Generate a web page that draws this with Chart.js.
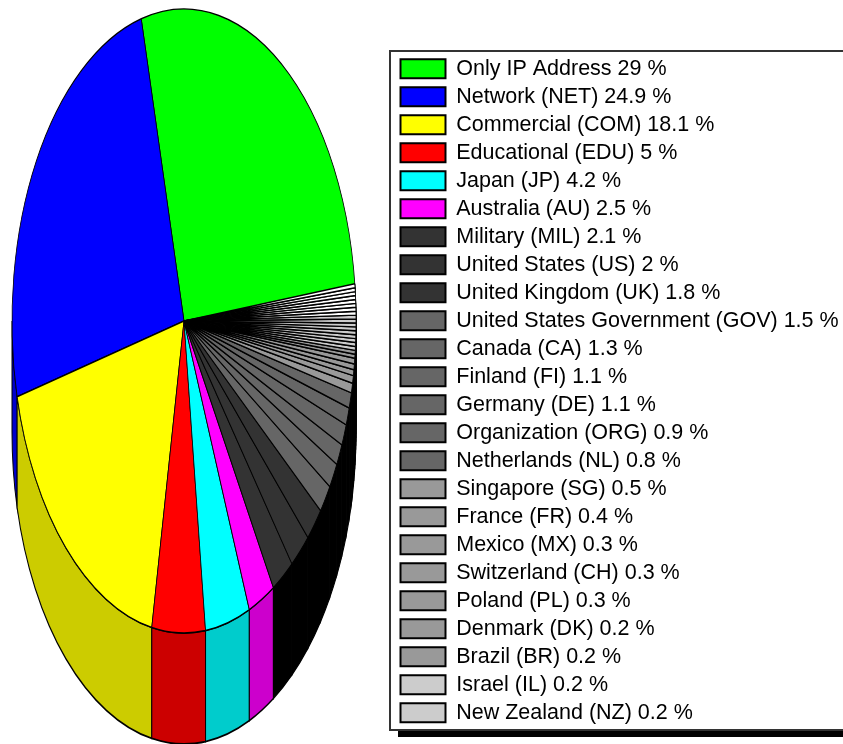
<!DOCTYPE html>
<html>
<head>
<meta charset="utf-8">
<title>Domains</title>
<script src="https://cdn.jsdelivr.net/npm/chart.js@4"></script>
<style>
  html, body { margin: 0; padding: 0; background: #fff; overflow: hidden; }
  canvas { display: block; }
</style>
</head>
<body>
<canvas id="pieChart" width="843" height="744"></canvas>
<script>
// Named slices, in legend order
const categories = [
  'Only IP Address', 'Network (NET)', 'Commercial (COM)', 'Educational (EDU)',
  'Japan (JP)', 'Australia (AU)', 'Military (MIL)', 'United States (US)',
  'United Kingdom (UK)', 'United States Government (GOV)', 'Canada (CA)',
  'Finland (FI)', 'Germany (DE)', 'Organization (ORG)', 'Netherlands (NL)',
  'Singapore (SG)', 'France (FR)', 'Mexico (MX)', 'Switzerland (CH)',
  'Poland (PL)', 'Denmark (DK)', 'Brazil (BR)', 'Israel (IL)', 'New Zealand (NZ)'
];
const percents = [
  29, 24.9, 18.1, 5, 4.2, 2.5, 2.1, 2, 1.8, 1.5, 1.3, 1.1, 1.1, 0.9, 0.8,
  0.5, 0.4, 0.3, 0.3, 0.3, 0.2, 0.2, 0.2, 0.2
];
const sliceColors = [
  '#00ff00', '#0000ff', '#ffff00', '#ff0000', '#00ffff', '#ff00ff',
  '#333333', '#333333', '#333333',
  '#666666', '#666666', '#666666', '#666666', '#666666', '#666666',
  '#999999', '#999999', '#999999', '#999999', '#999999', '#999999', '#999999',
  '#cccccc', '#cccccc'
];
const rimColors = ['#00cc00', '#0000cc', '#cccc00', '#cc0000', '#00cccc', '#cc00cc'];

// The thin slices that have no legend row, read off the stripes on the right
const unlistedGrey = [0.2, 0.2, 0.2, 0.2, 0.2, 0.2, 0.2];
const unlistedWhite = [0.2, 0.2, 0.2, 0.2, 0.2, 0.2, 0.2, 0.2];

const allValues = percents.concat(unlistedGrey, unlistedWhite);
const allColors = sliceColors.concat(unlistedGrey.map(() => '#cccccc'), unlistedWhite.map(() => '#ffffff'));
const allLabels = categories.concat(unlistedGrey.map(() => ''), unlistedWhite.map(() => ''));
const totalPercent = allValues.reduce((a, b) => a + b, 0);

// Pie geometry on the page
const pie = { x: 184, y: 321, rx: 172, ry: 312, depth: 111 };
const box = { left: 390, top: 51, bottom: 730 };

// Tilted look: squash the arcs into an ellipse, mirror them so they run
// counter-clockwise, and pull a darker rim down under the front half
const tiltedPie = {
  id: 'tiltedPie',
  beforeDatasetsDraw(chart) {
    const ctx = chart.ctx;
    const arcs = chart.getDatasetMeta(0).data;
    const r = arcs[0].outerRadius;
    const sy = pie.ry / r;
    const drop = pie.depth / sy;
    ctx.save();
    ctx.translate(pie.x, pie.y);
    ctx.scale(-pie.rx / r, sy);
    ctx.translate(-arcs[0].x, -arcs[0].y);

    ctx.lineWidth = 1;
    ctx.strokeStyle = '#000';
    arcs.forEach((arc, i) => {
      const a0 = Math.max(arc.startAngle, 0);
      const a1 = Math.min(arc.endAngle, Math.PI + 0.15);
      if (a1 <= a0) return;
      ctx.beginPath();
      ctx.arc(arc.x, arc.y, r, a0, a1);
      ctx.arc(arc.x, arc.y + drop, r, a1, a0, true);
      ctx.closePath();
      ctx.fillStyle = rimColors[i] || '#000';
      ctx.fill();
      ctx.stroke();
    });
  },
  afterDatasetsDraw(chart) {
    chart.ctx.restore();
  }
};

// Legend frame with the heavy shadow along the bottom
const legendFrame = {
  id: 'legendFrame',
  afterLayout(chart) {
    const legend = chart.legend;
    legend.left = 394;
    legend.right = chart.width;
    legend.width = legend.right - legend.left;
    legend.top = 51.5;
    legend.bottom = chart.height;
    legend.height = legend.bottom - legend.top;
  },
  beforeDraw(chart) {
    const ctx = chart.ctx;
    ctx.save();
    ctx.fillStyle = '#000';
    ctx.fillRect(box.left + 8, box.bottom, chart.width, 7);
    ctx.strokeStyle = '#333';
    ctx.lineWidth = 2;
    ctx.strokeRect(box.left, box.top, chart.width, box.bottom - box.top);
    ctx.restore();
  }
};

new Chart(document.getElementById('pieChart'), {
  type: 'doughnut',
  data: {
    labels: allLabels,
    datasets: [{
      data: allValues,
      backgroundColor: allColors,
      borderColor: '#000',
      borderWidth: 0.8,
      clip: false
    }]
  },
  options: {
    responsive: false,
    animation: false,
    cutout: 0,
    radius: 172,
    rotation: -90,
    // 1 % is 3.6 degrees; the slices add up to a bit over 100 and overlap the first one
    circumference: totalPercent * 3.6,
    plugins: {
      tooltip: { enabled: false },
      legend: {
        position: 'right',
        align: 'start',
        labels: {
          boxWidth: 45,
          boxHeight: 19,
          padding: 6.5,
          color: '#222',
          font: { family: '"Liberation Sans", Arial, sans-serif', size: 21.5 },
          generateLabels: () => categories.map((name, i) => ({
            text: `${name} ${percents[i]} %`,
            fillStyle: sliceColors[i],
            strokeStyle: '#000',
            lineWidth: 2,
            index: i
          }))
        }
      }
    }
  },
  plugins: [tiltedPie, legendFrame]
});
</script>
</body>
</html>
